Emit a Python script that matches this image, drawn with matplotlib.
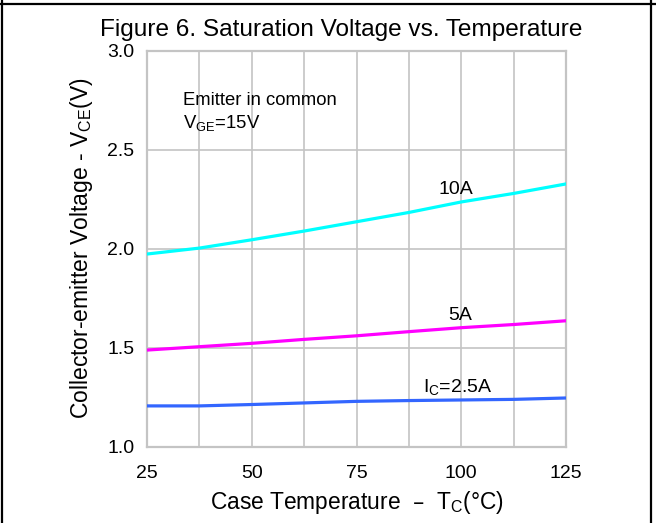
import matplotlib
matplotlib.use("Agg")
import matplotlib.pyplot as plt
from matplotlib.lines import Line2D

plt.rcParams['font.family'] = ['Liberation Sans', 'DejaVu Sans']
plt.rcParams['mathtext.default'] = 'regular'

# Case temperature (°C) and saturation voltage (V)
temps = [25, 37.5, 50, 62.5, 75, 87.5, 100, 112.5, 125]
vce_10a = [1.973, 2.003, 2.045, 2.089, 2.136, 2.183, 2.236, 2.279, 2.327]
vce_5a = [1.488, 1.505, 1.522, 1.542, 1.560, 1.581, 1.601, 1.617, 1.636]
vce_2_5a = [1.206, 1.206, 1.213, 1.221, 1.229, 1.233, 1.236, 1.239, 1.246]

x_ticks = [25, 50, 75, 100, 125]
y_ticks = [1.0, 1.5, 2.0, 2.5, 3.0]

grid_gray = '#c4c4c4'

fig = plt.figure(figsize=(6.56, 5.23), dpi=100)
ax = fig.add_axes([0.2241, 0.1459, 0.6387, 0.7572])

ax.plot(temps, vce_10a, color='#00ffff', lw=2.3, zorder=3)
ax.plot(temps, vce_5a, color='#ff00ff', lw=2.3, zorder=3)
ax.plot(temps, vce_2_5a, color='#3366ff', lw=2.3, zorder=3)

ax.set_xlim(25, 125)
ax.set_ylim(1.0, 3.0)
ax.set_xticks(x_ticks)
ax.set_xticks(temps, minor=True)
ax.set_yticks(y_ticks)
ax.set_yticklabels([f"{v:.1f}" for v in y_ticks])
ax.grid(True, which='both', color=grid_gray, lw=1.2, zorder=1)
ax.tick_params(which='both', length=0, labelsize=14)
ax.tick_params(axis='x', pad=13)
ax.tick_params(axis='y', pad=9)
for sp in ax.spines.values():
    sp.set_color(grid_gray)
    sp.set_linewidth(1.6)

ax.text(98.7, 2.297, '10A', fontsize=14, ha='center', va='center')
ax.text(99.7, 1.665, '5A', fontsize=14, ha='center', va='center')
ax.text(99.2, 1.30, 'I$_C$=2.5A', fontsize=14, ha='center', va='center')
ax.text(33.6, 2.748, 'Emitter in common', fontsize=13.3, ha='left', va='center')
ax.text(33.6, 2.636, 'V$_{GE}$=15V', fontsize=13.3, ha='left', va='center')

ax.set_xlabel('Case Temperature  \u2013  T$_C$(\u00b0C)', fontsize=16.4, labelpad=5)
ax.set_ylabel('Collector-emitter Voltage - V$_{CE}$(V)', fontsize=16.5, labelpad=9)

fig.text(0.5198, 0.9426, 'Figure 6. Saturation Voltage vs. Temperature',
         fontsize=17.6, ha='center', va='center')

# table-cell style frame around the figure
for xs, ys in [([0, 1], [0.9933, 0.9933]),
               ([0.0025, 0.0025], [0, 1]),
               ([0.9924, 0.9924], [0, 1])]:
    fig.add_artist(Line2D(xs, ys, transform=fig.transFigure, color='black', lw=1.6))

fig.savefig('out.png', dpi=100)
